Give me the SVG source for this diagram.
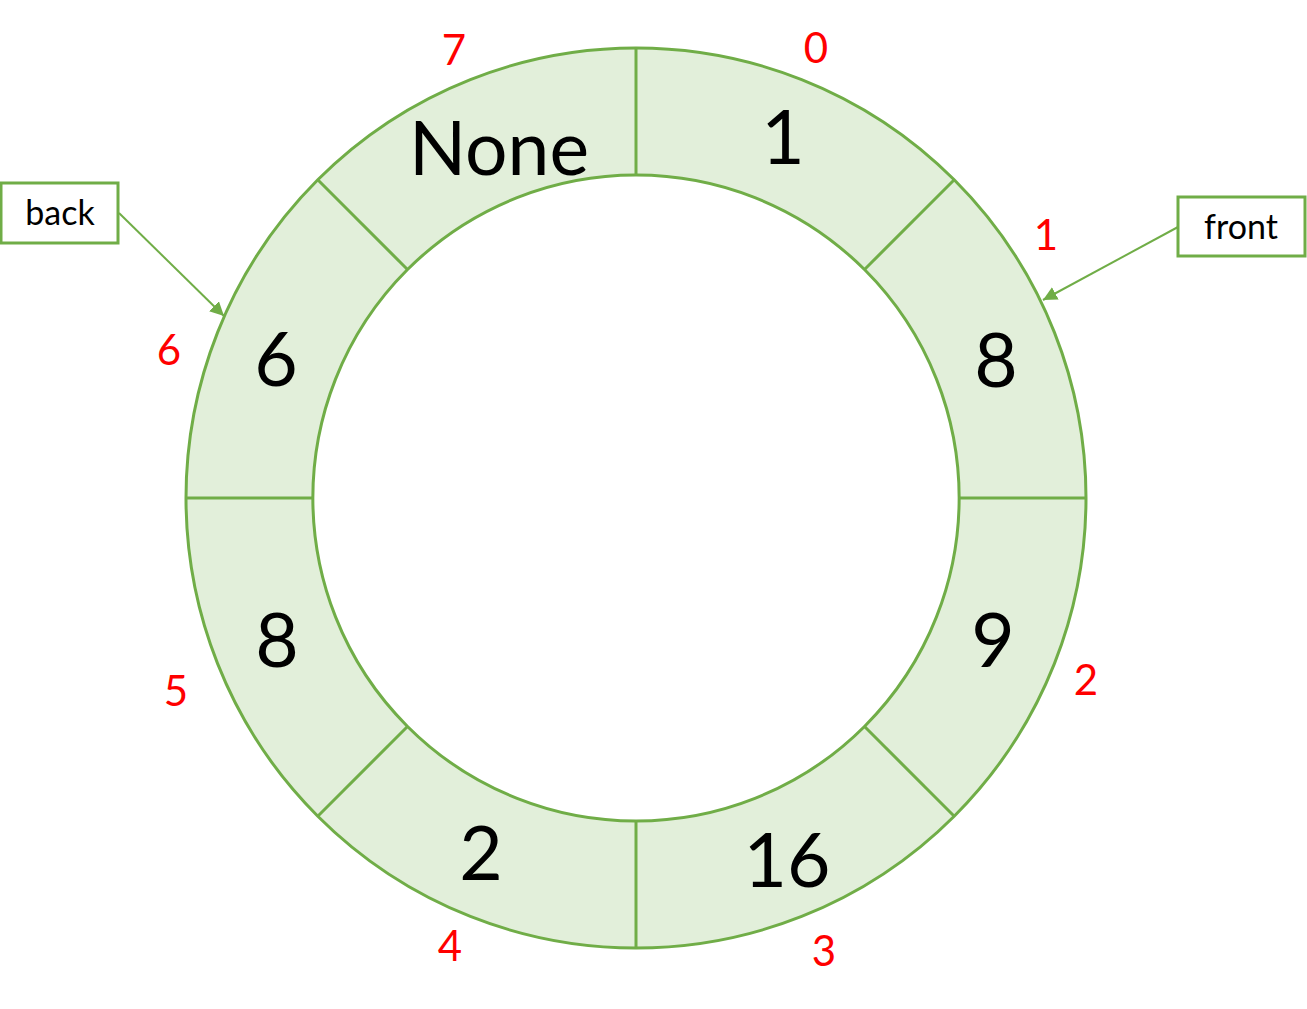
<svg xmlns="http://www.w3.org/2000/svg" width="1307" height="1009" viewBox="0 0 1307 1009">
<style>
.ring{fill:#E2EFDA;stroke:#70AD47;stroke-width:3}
.div{stroke:#70AD47;stroke-width:3;fill:none}
.val{font-family:Lato,"Liberation Sans",sans-serif;font-size:75px;fill:#000;text-anchor:middle}
.idx{font-family:Lato,"Liberation Sans",sans-serif;font-size:42px;fill:#FF0000;text-anchor:middle}
.box{fill:#fff;stroke:#70AD47;stroke-width:3}
.lbl{font-family:Lato,"Liberation Sans",sans-serif;font-size:34px;fill:#000;text-anchor:middle}
.conn{stroke:#70AD47;stroke-width:2;fill:none;marker-end:url(#ah)}
</style>
<defs>
<marker id="ah" viewBox="0 0 10 10" refX="10" refY="5" markerWidth="7" markerHeight="7" orient="auto" markerUnits="strokeWidth">
<path d="M0,0 L10,5 L0,10 z" fill="#70AD47"/>
</marker>
</defs>
<rect width="1307" height="1009" fill="#fff"/>
<g id="ring">
<path class="ring" fill-rule="evenodd" d="M636,48 A450,450 0 1,1 636,948 A450,450 0 1,1 636,48 Z M636,175 A323,323 0 1,0 636,821 A323,323 0 1,0 636,175 Z"/>
<line class="div" x1="636" y1="48" x2="636" y2="175"/>
<line class="div" x1="636" y1="821" x2="636" y2="948"/>
<line class="div" x1="186" y1="498" x2="313" y2="498"/>
<line class="div" x1="959" y1="498" x2="1086" y2="498"/>
<line class="div" x1="318" y1="180" x2="408" y2="270"/>
<line class="div" x1="954" y1="180" x2="864" y2="270"/>
<line class="div" x1="318" y1="816" x2="408" y2="726"/>
<line class="div" x1="954" y1="816" x2="864" y2="726"/>
</g>
<g id="slot0"><text class="val" x="783" y="164">1</text><text class="idx" x="816" y="63">0</text></g>
<g id="slot1"><text class="val" x="996" y="387">8</text><text class="idx" x="1046" y="250">1</text></g>
<g id="slot2"><text class="val" x="993" y="667">9</text><text class="idx" x="1086" y="695">2</text></g>
<g id="slot3"><text class="val" x="787" y="887">16</text><text class="idx" x="824" y="966">3</text></g>
<g id="slot4"><text class="val" x="481" y="880">2</text><text class="idx" x="450" y="961">4</text></g>
<g id="slot5"><text class="val" x="277" y="667">8</text><text class="idx" x="176" y="706">5</text></g>
<g id="slot6"><text class="val" x="276" y="386">6</text><text class="idx" x="169" y="365">6</text></g>
<g id="slot7"><text class="val" x="499" y="175">None</text><text class="idx" x="454" y="65">7</text></g>
<g id="back"><rect class="box" x="1" y="183" width="117" height="60"/><text class="lbl" x="60" y="225">back</text></g>
<g id="front"><rect class="box" x="1178" y="197" width="127" height="59"/><text class="lbl" x="1241" y="239">front</text></g>
<g id="connectors">
<line class="conn" x1="119" y1="213" x2="224" y2="316"/>
<line class="conn" x1="1178" y1="227" x2="1043" y2="300"/>
</g>
</svg>
